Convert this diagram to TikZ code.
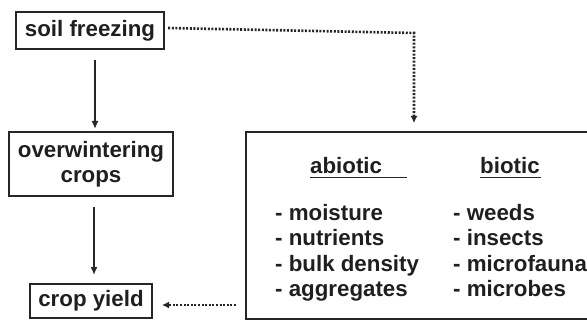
\documentclass[tikz,border=0pt]{standalone}
\usepackage{fontspec}
\setmainfont{Liberation Sans}
\usetikzlibrary{arrows.meta,calc}
\begin{document}
\begin{tikzpicture}[x=1pt,y=-1pt,
  every node/.style={font=\fontsize{22.3}{25}\selectfont\bfseries, text=black!88},
  box/.style={draw=black!85, line width=2.4pt, inner sep=0pt, align=center},
  solidarrow/.style={draw=black!85, line width=1.6pt, -{Latex[length=8pt,width=7pt]}},
  dotarrow/.style={draw=black!85, line width=2.6pt, dash pattern=on 2pt off 1.6pt, -{Latex[length=7pt,width=7pt]}},
  item/.style={anchor=base west, inner sep=0pt}]
\useasboundingbox (0,0) rectangle (587,321);
\clip (0,0) rectangle (587,321);
% boxes
\node[box, minimum width=148pt, minimum height=37pt] (sf) at (90,30.5) {soil freezing};
\node[box, minimum width=164pt, minimum height=64pt] (ow) at (91,164) {overwintering\\crops};
\node[box, minimum width=122pt, minimum height=34pt] (cy) at (91,301) {crop yield};
\node[box, minimum width=360pt, minimum height=187pt] (fac) at (426,225.5) {};
% solid arrows
\coordinate (a1s) at (95,60);
\coordinate (a1e) at (95,129);
\draw[solidarrow] (a1s) -- (a1e);
\coordinate (a2s) at (94,207);
\coordinate (a2e) at (94,275);
\draw[solidarrow] (a2s) -- (a2e);
% dotted connectors
\coordinate (d1c) at (414,33);
\coordinate (d1e) at (414,123);
\draw[dotarrow] ([xshift=3pt,yshift=2.5pt]sf.east) -- (d1c) -- (d1e);
\coordinate (d2s) at (236,305);
\coordinate (d2e) at (162,305);
\draw[dotarrow] (d2s) -- (d2e);
% headings
\node[item] (ab) at (310,173) {abiotic};
\node[item] (bi) at (480,173) {biotic};
\coordinate (abu1) at (310,177.5);
\coordinate (abu2) at (407,177.5);
\coordinate (biu1) at (480,177.5);
\coordinate (biu2) at (541,177.5);
\draw[line width=1.8pt, black!85] (abu1) -- (abu2);
\draw[line width=1.8pt, black!85] (biu1) -- (biu2);
% items
\node[item] (l1) at (275,220) {- moisture};
\node[item] (l2) at (275,245.5) {- nutrients};
\node[item] (l3) at (275,271) {- bulk density};
\node[item] (l4) at (275,296.5) {- aggregates};
\node[item] (r1) at (453,220) {- weeds};
\node[item] (r2) at (453,245.5) {- insects};
\node[item] (r3) at (453,271) {- microfauna};
\node[item] (r4) at (453,296.5) {- microbes};
\end{tikzpicture}
\end{document}
